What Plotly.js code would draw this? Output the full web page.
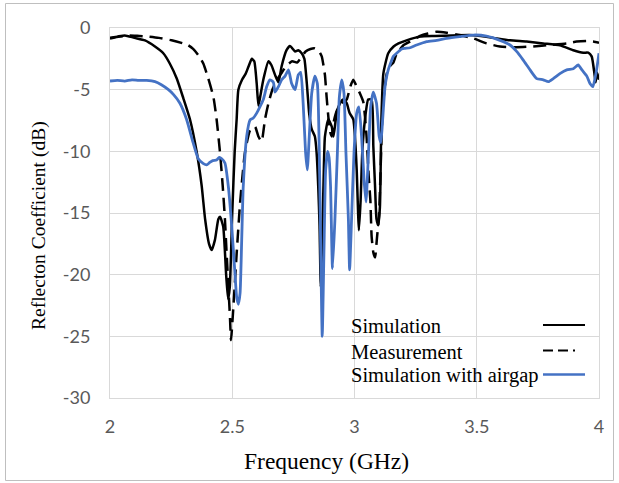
<!DOCTYPE html>
<html>
<head>
<meta charset="utf-8">
<script src="https://cdn.plot.ly/plotly-3.0.1.min.js"></script>
<style>
  html, body { margin: 0; padding: 0; background: #ffffff; }
  #chart { width: 619px; height: 483px; }
</style>
</head>
<body>
<div id="chart"></div>
<script>
// Simulation (solid black)
const simFreq = [2.0,2.03,2.061,2.10,2.143,2.184,2.218,2.245,2.273,2.30,2.327,2.355,2.375,2.389,2.405,2.416,2.429,2.443,2.45,2.463,2.475,2.483,2.49,2.50,2.51,2.518,2.525,2.54,2.555,2.567,2.58,2.59,2.60,2.607,2.615,2.627,2.648,2.66,2.675,2.689,2.702,2.722,2.736,2.757,2.77,2.784,2.795,2.805,2.815,2.825,2.838,2.845,2.852,2.857,2.862,2.868,2.874,2.879,2.893,2.907,2.914,2.927,2.941,2.954,2.968,2.98,2.995,3.004,3.009,3.018,3.025,3.032,3.043,3.056,3.07,3.077,3.084,3.09,3.097,3.104,3.11,3.118,3.138,3.16,3.18,3.213,3.268,3.33,3.40,3.47,3.50,3.568,3.636,3.704,3.772,3.84,3.895,3.936,3.956,3.97,3.98,3.986,3.992,4.0];
const simDb = [-0.8,-0.7,-0.6,-0.8,-1.0,-1.5,-2.05,-2.9,-4.1,-5.7,-7.4,-10.1,-12.8,-15.5,-17.5,-18.0,-17.2,-15.5,-15.3,-16.1,-20.0,-22.0,-21.0,-15.0,-10.0,-7.4,-5.0,-4.2,-3.7,-3.1,-2.5,-2.7,-4.5,-6.3,-5.5,-4.2,-2.7,-3.0,-3.8,-4.4,-3.1,-1.8,-1.45,-1.9,-1.8,-2.05,-2.5,-4.5,-7.0,-8.2,-8.8,-10.1,-13.0,-16.0,-21.0,-17.0,-12.0,-8.8,-7.4,-8.0,-8.8,-6.9,-6.1,-5.8,-6.1,-6.9,-7.4,-9.5,-11.5,-16.4,-14.0,-10.0,-7.4,-5.8,-5.8,-9.6,-12.8,-15.5,-16.0,-14.5,-7.4,-3.7,-2.05,-1.5,-1.25,-1.0,-0.7,-0.65,-0.6,-0.57,-0.6,-0.8,-1.0,-1.1,-1.25,-1.4,-1.8,-2.0,-2.0,-2.3,-3.5,-4.4,-3.6,-4.2];

// Measurement (dashed black)
const measFreq = [2.0,2.04,2.08,2.12,2.157,2.2,2.252,2.30,2.32,2.34,2.361,2.382,2.402,2.423,2.436,2.45,2.461,2.47,2.477,2.484,2.491,2.495,2.504,2.518,2.532,2.552,2.573,2.593,2.607,2.62,2.634,2.648,2.664,2.68,2.70,2.72,2.745,2.765,2.785,2.80,2.82,2.838,2.855,2.866,2.872,2.879,2.886,2.893,2.90,2.907,2.915,2.93,2.948,2.968,2.982,2.995,3.01,3.022,3.036,3.043,3.05,3.058,3.065,3.07,3.077,3.084,3.092,3.10,3.106,3.112,3.12,3.132,3.145,3.159,3.172,3.2,3.227,3.268,3.30,3.336,3.377,3.43,3.486,3.54,3.595,3.663,3.731,3.8,3.868,3.908,3.95,3.977,4.0];
const measDb = [-0.85,-0.7,-0.6,-0.65,-0.7,-0.8,-1.0,-1.25,-1.4,-1.7,-2.2,-2.9,-4.1,-5.6,-7.4,-10.1,-12.8,-15.5,-18.3,-20.9,-23.6,-25.3,-22.8,-18.3,-14.2,-10.1,-8.3,-8.0,-8.8,-9.2,-7.4,-6.1,-5.0,-4.3,-3.7,-3.1,-2.7,-2.8,-2.3,-1.9,-1.7,-1.65,-1.9,-2.3,-2.9,-3.8,-5.6,-7.2,-8.4,-8.8,-7.6,-6.6,-6.1,-5.8,-4.8,-4.2,-4.8,-5.3,-6.0,-7.2,-9.0,-12.0,-14.0,-16.9,-18.2,-18.6,-17.0,-15.3,-12.0,-8.0,-5.5,-3.7,-3.1,-2.8,-2.1,-1.4,-1.1,-0.65,-0.45,-0.3,-0.38,-0.57,-0.84,-1.25,-1.5,-1.56,-1.5,-1.38,-1.25,-1.1,-1.05,-1.1,-1.2];

// Simulation with airgap (blue)
const gapFreq = [2.0,2.03,2.06,2.09,2.117,2.15,2.184,2.21,2.239,2.26,2.286,2.313,2.34,2.361,2.382,2.395,2.408,2.42,2.436,2.447,2.457,2.47,2.484,2.498,2.511,2.518,2.525,2.532,2.539,2.545,2.559,2.573,2.586,2.60,2.613,2.627,2.641,2.654,2.668,2.675,2.689,2.702,2.716,2.73,2.743,2.757,2.77,2.78,2.79,2.80,2.807,2.815,2.825,2.838,2.848,2.856,2.862,2.868,2.875,2.882,2.89,2.896,2.902,2.91,2.92,2.93,2.938,2.948,2.957,2.965,2.975,2.98,2.988,2.998,3.009,3.018,3.029,3.039,3.047,3.056,3.066,3.077,3.09,3.101,3.108,3.115,3.125,3.138,3.159,3.172,3.193,3.207,3.227,3.254,3.295,3.336,3.377,3.43,3.486,3.54,3.595,3.636,3.663,3.69,3.718,3.745,3.772,3.793,3.813,3.84,3.868,3.895,3.915,3.93,3.95,3.963,3.975,3.99,4.0];
const gapDb = [-4.3,-4.25,-4.3,-4.2,-4.25,-4.25,-4.35,-4.6,-5.0,-5.4,-6.1,-7.4,-9.3,-10.6,-11.0,-11.1,-10.9,-10.75,-10.7,-10.5,-10.6,-10.95,-12.85,-16.1,-19.9,-21.8,-22.4,-21.5,-16.9,-12.85,-8.8,-7.45,-7.3,-6.9,-6.4,-5.8,-4.75,-4.2,-4.4,-5.2,-4.75,-4.2,-3.9,-3.4,-4.5,-5.0,-3.8,-3.6,-6.1,-10.1,-11.5,-8.8,-5.3,-3.9,-4.5,-10.1,-18.2,-25.0,-18.2,-11.5,-10.0,-10.5,-12.8,-19.5,-15.5,-10.1,-5.6,-4.2,-5.3,-10.1,-15.5,-19.6,-15.5,-10.1,-6.9,-6.4,-8.8,-12.3,-14.1,-10.7,-6.4,-5.2,-6.1,-8.8,-9.3,-7.45,-4.75,-3.4,-2.3,-2.05,-1.7,-1.65,-1.6,-1.38,-1.1,-1.0,-0.84,-0.7,-0.57,-0.65,-1.0,-1.38,-1.9,-2.6,-3.4,-4.1,-4.2,-4.35,-4.1,-3.7,-3.4,-3.3,-3.0,-3.4,-3.9,-4.5,-4.75,-3.4,-2.05];

const seriesNames = ['Simulation', 'Measurement', 'Simulation with airgap'];
const xTickVals = [2, 2.5, 3, 3.5, 4];
const xTickText = ['2', '2.5', '3', '3.5', '4'];
const yTickVals = [0, -5, -10, -15, -20, -25, -30];
const yTickText = ['0', '-5', '-10', '-15', '-20', '-25', '-30'];

const BLUE = '#4472C4';
const serif = 'Liberation Serif, Times New Roman, serif';
const tickFont = { family: 'Lato, Carlito, sans-serif', size: 18, color: '#595959' };

const traces = [
  { x: simFreq, y: simDb, name: seriesNames[0], type: 'scatter', mode: 'lines',
    line: { color: '#000000', width: 2.5, shape: 'spline', smoothing: 0.5 } },
  { x: measFreq, y: measDb, name: seriesNames[1], type: 'scatter', mode: 'lines',
    line: { color: '#000000', width: 2.5, dash: '13px,7px', shape: 'spline', smoothing: 0.5 } },
  { x: gapFreq, y: gapDb, name: seriesNames[2], type: 'scatter', mode: 'lines',
    line: { color: BLUE, width: 2.8, shape: 'spline', smoothing: 0.5 } }
];

// custom legend (text left, sample line right)
const legY = [326, 351.5, 375.5];     // pixel centres
const toPaperY = py => (398 - py) / 370;
const toPaperX = px => (px - 110) / 489;
const legendStyles = [
  { color: '#000000', dash: 'solid', width: 2 },
  { color: '#000000', dash: '10px,5px,10px,5px,2px', width: 2 },
  { color: BLUE, dash: 'solid', width: 2.5 }
];

const annotations = [];
const shapes = [];
seriesNames.forEach((n, i) => {
  annotations.push({ text: n, xref: 'paper', yref: 'paper', x: toPaperX(349), y: toPaperY(legY[i]),
    xanchor: 'left', yanchor: 'middle', showarrow: false, font: { family: serif, size: 20.5, color: '#000' } });
  shapes.push({ type: 'line', xref: 'paper', yref: 'paper', x0: toPaperX(543), x1: toPaperX(585),
    y0: toPaperY(legY[i] - 1), y1: toPaperY(legY[i] - 1), line: legendStyles[i] });
});
annotations.push({ text: 'Frequency (GHz)', xref: 'paper', yref: 'paper', x: toPaperX(326), y: toPaperY(461),
  xanchor: 'center', yanchor: 'middle', showarrow: false, font: { family: serif, size: 23.5, color: '#000' } });
annotations.push({ text: 'Reflecton Coefficient (dB)', xref: 'paper', yref: 'paper', x: toPaperX(39), y: toPaperY(226),
  xanchor: 'center', yanchor: 'middle', textangle: -90, showarrow: false, font: { family: serif, size: 19.5, color: '#000' } });
// outer frame
shapes.push({ type: 'rect', xref: 'paper', yref: 'paper', x0: toPaperX(5.5), x1: toPaperX(613.5),
  y0: toPaperY(480.5), y1: toPaperY(3.5), line: { color: '#bfbfbf', width: 1 }, layer: 'below' });

const layout = {
  width: 619, height: 483,
  margin: { l: 110, r: 20, t: 28, b: 85 },
  paper_bgcolor: '#ffffff', plot_bgcolor: '#ffffff',
  showlegend: false,
  xaxis: { range: [2, 4], tickvals: xTickVals, ticktext: xTickText, tickfont: tickFont,
    showgrid: true, gridcolor: '#d9d9d9', gridwidth: 1, zeroline: false,
    showline: true, linecolor: '#d9d9d9', linewidth: 1, mirror: true, ticks: '', ticklabelstandoff: 12 },
  yaxis: { range: [-30, 0], tickvals: yTickVals, ticktext: yTickText, tickfont: tickFont,
    showgrid: true, gridcolor: '#d9d9d9', gridwidth: 1, zeroline: false,
    showline: true, linecolor: '#d9d9d9', linewidth: 1, mirror: true, ticks: '', ticklabelstandoff: 15 },
  annotations: annotations,
  shapes: shapes
};

Plotly.newPlot('chart', traces, layout, { displayModeBar: false, staticPlot: true });
</script>
</body>
</html>
